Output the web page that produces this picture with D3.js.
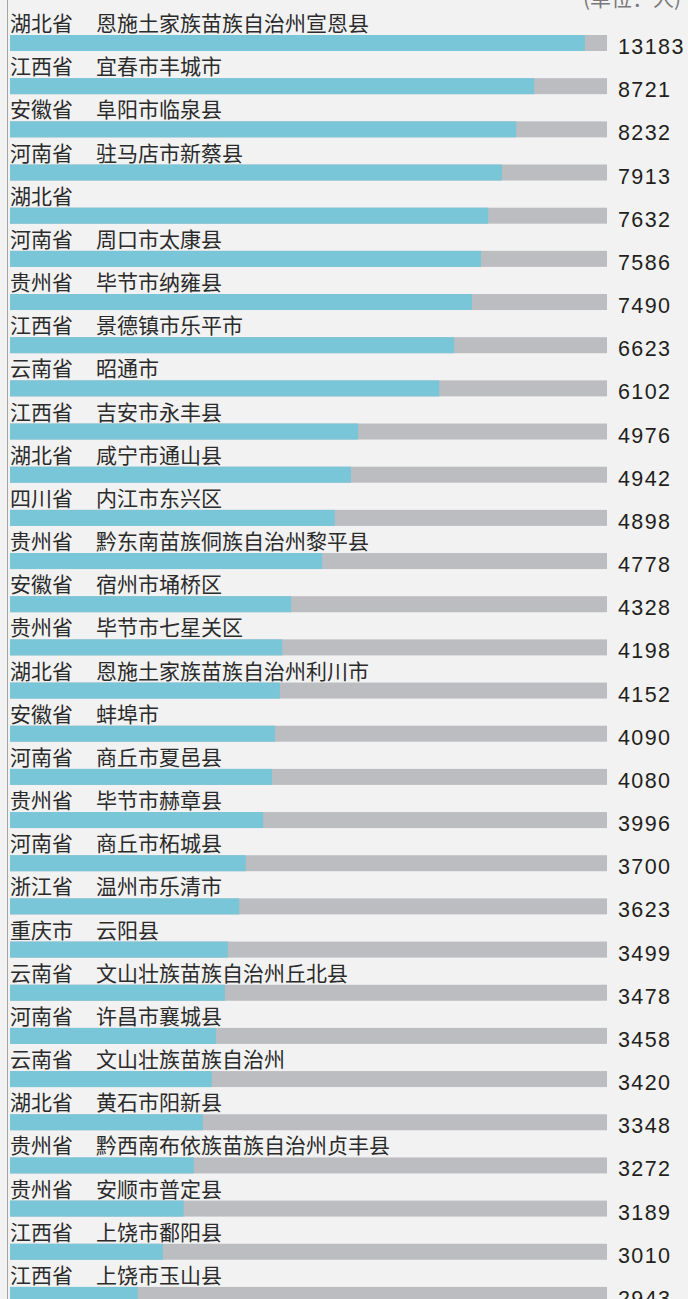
<!DOCTYPE html>
<html>
<head>
<meta charset="utf-8">
<script src="https://cdn.jsdelivr.net/npm/d3@7/dist/d3.min.js"></script>
<style>
  body { margin: 0; background: #f2f2f2; }
  #chart svg { display: block; }
</style>
</head>
<body>
<div id="chart"></div>
<script>
// rows, top to bottom
const provinces = ["湖北省","江西省","安徽省","河南省","湖北省","河南省","贵州省","江西省","云南省","江西省",
  "湖北省","四川省","贵州省","安徽省","贵州省","湖北省","安徽省","河南省","贵州省","河南省",
  "浙江省","重庆市","云南省","河南省","云南省","湖北省","贵州省","贵州省","江西省","江西省"];
const cities = ["恩施土家族苗族自治州宣恩县","宜春市丰城市","阜阳市临泉县","驻马店市新蔡县","","周口市太康县",
  "毕节市纳雍县","景德镇市乐平市","昭通市","吉安市永丰县","咸宁市通山县","内江市东兴区",
  "黔东南苗族侗族自治州黎平县","宿州市埇桥区","毕节市七星关区","恩施土家族苗族自治州利川市","蚌埠市",
  "商丘市夏邑县","毕节市赫章县","商丘市柘城县","温州市乐清市","云阳县","文山壮族苗族自治州丘北县",
  "许昌市襄城县","文山壮族苗族自治州","黄石市阳新县","黔西南布依族苗族自治州贞丰县","安顺市普定县",
  "上饶市鄱阳县","上饶市玉山县"];
const values = [13183,8721,8232,7913,7632,7586,7490,6623,6102,4976,4942,4898,4778,4328,4198,4152,
  4090,4080,3996,3700,3623,3499,3478,3458,3420,3348,3272,3189,3010,2943];
// filled share of each track (%), as drawn in the original
const fillPct = [96.3,87.8,84.8,82.4,80.1,78.9,77.4,74.4,71.9,58.3,57.1,54.4,52.3,47.1,45.6,45.2,
  44.4,43.9,42.4,39.5,38.4,36.5,36.0,34.5,33.8,32.3,30.8,29.1,25.6,21.4];
const unitLabel = "(单位：人)";

const width = 688;
const height = 1299;
const barH = 16;

const rows = values.map((v, i) => ({
  province: provinces[i],
  city: cities[i],
  value: v,
  pct: fillPct[i]
}));

const svg = d3.select("#chart")
  .append("svg")
  .attr("width", width)
  .attr("height", height);

svg.append("rect")
  .attr("width", width)
  .attr("height", height)
  .attr("fill", "#f2f2f2");

// left rule
svg.append("line")
  .attr("x1", 7.5).attr("x2", 7.5)
  .attr("y1", 0).attr("y2", height)
  .attr("stroke", "#a3a3a3")
  .attr("stroke-width", 1);

const x = d3.scaleLinear()
  .domain([0, 100])
  .range([10, 607]);

const y = d3.scaleBand()
  .domain(d3.range(rows.length))
  .range([35, 35 + rows.length * 43.17]);

// unit note, mostly cut off at the top
svg.append("text")
  .attr("x", 583)
  .attr("y", 6)
  .attr("fill", "#7a7a7a")
  .style("font-family", "'Noto Sans CJK SC', sans-serif")
  .style("font-size", "21px")
  .text(unitLabel);

const row = svg.selectAll("g.row")
  .data(rows)
  .enter().append("g")
  .attr("class", "row")
  .attr("transform", (d, i) => "translate(0," + y(i) + ")");

// grey track
row.append("rect")
  .attr("x", x(0))
  .attr("y", 0)
  .attr("width", x(100) - x(0))
  .attr("height", barH)
  .attr("fill", "#bcbdc1");

// cyan fill
row.append("rect")
  .attr("x", x(0))
  .attr("y", 0)
  .attr("width", d => x(d.pct) - x(0))
  .attr("height", barH)
  .attr("fill", "#78c6d8");

row.append("text")
  .attr("x", 10)
  .attr("y", -4)
  .attr("fill", "#2b2b2b")
  .style("font-family", "'Noto Sans CJK SC', sans-serif")
  .style("font-size", "21px")
  .text(d => d.province);

row.append("text")
  .attr("x", 96)
  .attr("y", -4)
  .attr("fill", "#2b2b2b")
  .style("font-family", "'Noto Sans CJK SC', sans-serif")
  .style("font-size", "21px")
  .text(d => d.city);

row.append("text")
  .attr("x", 618)
  .attr("y", 19)
  .attr("fill", "#231f20")
  .style("font-family", "'Liberation Sans', Arial, sans-serif")
  .style("font-size", "21.5px")
  .style("letter-spacing", "1.4px")
  .text(d => d.value);
</script>
</body>
</html>
